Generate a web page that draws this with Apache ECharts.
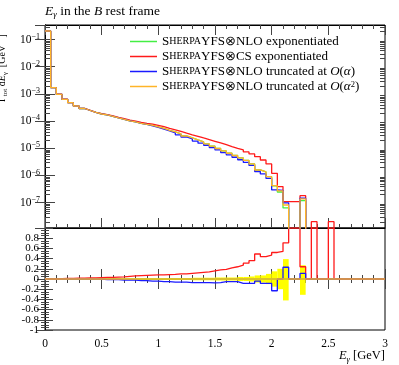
<!DOCTYPE html>
<html>
<head>
<meta charset="utf-8">
<script src="https://cdn.jsdelivr.net/npm/echarts@6/dist/echarts.min.js"></script>
<style>
html, body { margin: 0; padding: 0; background: #fff; }
#chart { width: 399px; height: 365px; }
</style>
</head>
<body>
<div id="chart"></div>
<script>
// bins of 0.05 GeV from 0 to 3 GeV
const binWidth = 0.05;
const edges = Array.from({ length: 61 }, (_, i) => +(i * binWidth).toFixed(2));

// 1/Gamma dGamma/dE per bin, 0 = empty bin
const nloExp = [0.205, 1.69e-3, 9.66e-4, 6.32e-4, 4.74e-4, 3.59e-4, 2.90e-4, 2.45e-4, 2.07e-4, 1.82e-4,
  1.68e-4, 1.48e-4, 1.30e-4, 1.15e-4, 1.01e-4, 9.27e-5, 8.3e-5, 7.5e-5, 6.9e-5, 6.17e-5,
  5.34e-5, 4.59e-5, 3.97e-5, 3.36e-5, 2.83e-5, 2.39e-5, 2.02e-5, 1.71e-5, 1.44e-5, 1.19e-5,
  9.8e-6, 7.96e-6, 6.55e-6, 5.43e-6, 4.40e-6, 3.56e-6, 2.65e-6, 1.59e-6, 1.35e-6, 9.0e-7,
  4.11e-7, 2.47e-7, 6.4e-8, 0, 0, 1.19e-7, 0, 0, 0, 0,
  0, 0, 0, 0, 0, 0, 0, 0, 0, 0];
const csExp = [0.205, 1.69e-3, 9.7e-4, 6.35e-4, 4.76e-4, 3.62e-4, 2.93e-4, 2.48e-4, 2.1e-4, 1.89e-4,
  1.72e-4, 1.54e-4, 1.37e-4, 1.22e-4, 1.08e-4, 9.9e-5, 9.03e-5, 8.3e-5, 7.69e-5, 7.01e-5,
  6.23e-5, 5.44e-5, 4.79e-5, 4.15e-5, 3.59e-5, 3.13e-5, 2.74e-5, 2.39e-5, 2.09e-5, 1.81e-5,
  1.57e-5, 1.35e-5, 1.16e-5, 1.0e-5, 8.66e-6, 7.31e-6, 6.17e-6, 4.91e-6, 3.71e-6, 2.65e-6,
  1.2e-6, 3.9e-7, 1.09e-7, 1.09e-7, 1.09e-7, 1.81e-7, 0, 2.0e-8, 0, 0,
  2.0e-8, 0, 0, 0, 0, 0, 0, 0, 0, 0];
const nloAlpha = [0.205, 1.69e-3, 9.66e-4, 6.32e-4, 4.74e-4, 3.59e-4, 2.90e-4, 2.45e-4, 2.07e-4, 1.82e-4,
  1.68e-4, 1.48e-4, 1.30e-4, 1.15e-4, 1.01e-4, 9.27e-5, 8.3e-5, 7.5e-5, 6.6e-5, 5.87e-5,
  5.04e-5, 4.32e-5, 3.71e-5, 3.11e-5, 2.6e-5, 2.2e-5, 1.84e-5, 1.54e-5, 1.29e-5, 1.05e-5,
  8.66e-6, 6.95e-6, 5.67e-6, 4.67e-6, 3.78e-6, 3.01e-6, 2.33e-6, 1.4e-6, 1.14e-6, 7.76e-7,
  2.93e-7, 2.81e-7, 9.75e-8, 0, 0, 1.45e-7, 0, 0, 0, 0,
  0, 0, 0, 0, 0, 0, 0, 0, 0, 0];
const nloAlpha2 = [0.205, 1.69e-3, 9.66e-4, 6.32e-4, 4.74e-4, 3.59e-4, 2.90e-4, 2.45e-4, 2.07e-4, 1.82e-4,
  1.68e-4, 1.48e-4, 1.30e-4, 1.15e-4, 1.01e-4, 9.27e-5, 8.3e-5, 7.5e-5, 6.9e-5, 6.17e-5,
  5.34e-5, 4.59e-5, 3.97e-5, 3.36e-5, 2.83e-5, 2.39e-5, 2.02e-5, 1.71e-5, 1.44e-5, 1.19e-5,
  9.8e-6, 7.96e-6, 6.55e-6, 5.43e-6, 4.40e-6, 3.56e-6, 2.65e-6, 1.59e-6, 1.35e-6, 9.0e-7,
  4.2e-7, 2.7e-7, 8.2e-8, 0, 0, 1.37e-7, 0, 0, 0, 0,
  0, 0, 0, 0, 0, 0, 0, 0, 0, 0];

// ratio panel
const ratioCs = [0, 0, 0.005, 0.01, 0.01, 0.015, 0.015, 0.02, 0.02, 0.025,
  0.03, 0.03, 0.035, 0.04, 0.05, 0.06, 0.065, 0.07, 0.075, 0.08,
  0.08, 0.085, 0.09, 0.1, 0.1, 0.11, 0.12, 0.13, 0.14, 0.16,
  0.18, 0.19, 0.22, 0.24, 0.27, 0.31, 0.36, 0.49, 0.44, 0.47,
  0.52, 0.54, 0.71, 1, 1, 0.24, 0, 1, 0, 0,
  1, 0, 0, 0, 0, 0, 0, 0, 0, 0];
const ratioAlpha = [0, 0, 0, 0, 0, 0, 0, 0, 0, 0,
  -0.01, -0.01, -0.01, -0.02, -0.02, -0.02, -0.03, -0.03, -0.04, -0.04,
  -0.05, -0.05, -0.06, -0.06, -0.06, -0.07, -0.07, -0.07, -0.07, -0.075,
  -0.07, -0.05, -0.05, -0.05, -0.085, -0.085, -0.085, -0.04, -0.085, -0.085,
  -0.23, 0.0, 0.23, 0, 0, 0.11, 0, 0, 0, 0,
  0, 0, 0, 0, 0, 0, 0, 0, 0, 0];
const ratioExp = new Array(60).fill(0);
const ratioAlpha2 = new Array(60).fill(0);
const bandUp = [0.005, 0.005, 0.005, 0.005, 0.005, 0.005, 0.008, 0.008, 0.008, 0.008,
  0.008, 0.008, 0.008, 0.008, 0.008, 0.008, 0.012, 0.012, 0.012, 0.012,
  0.012, 0.015, 0.015, 0.015, 0.015, 0.015, 0.025, 0.025, 0.025, 0.025,
  0.03, 0.03, 0.03, 0.03, 0.04, 0.04, 0.05, 0.07, 0.07, 0.1,
  0.15, 0.2, 0.39, 0, 0, 0.27, 0, 0, 0, 0,
  0, 0, 0, 0, 0, 0, 0, 0, 0, 0];
const bandDown = [0.005, 0.005, 0.005, 0.005, 0.005, 0.005, 0.008, 0.008, 0.008, 0.008,
  0.008, 0.008, 0.008, 0.008, 0.008, 0.008, 0.012, 0.012, 0.012, 0.012,
  0.012, 0.015, 0.015, 0.015, 0.015, 0.015, 0.025, 0.025, 0.025, 0.025,
  0.03, 0.03, 0.03, 0.03, 0.04, 0.04, 0.05, 0.07, 0.07, 0.1,
  0.15, 0.2, 0.42, 0, 0, 0.31, 0, 0, 0, 0,
  0, 0, 0, 0, 0, 0, 0, 0, 0, 0];

const names = ['nloExp', 'csExp', 'nloAlpha', 'nloAlpha2'];
const colors = ['#44ee44', '#ff1a1a', '#1a1aff', '#ffb428'];
const legendText = [
  '{sc|S}{scs|HERPA}YFS⊗NLO exponentiated',
  '{sc|S}{scs|HERPA}YFS⊗CS exponentiated',
  '{sc|S}{scs|HERPA}YFS⊗NLO truncated at {it|O}({it|α})',
  '{sc|S}{scs|HERPA}YFS⊗NLO truncated at {it|O}({it|α}{sup|2})'
];

const yMin = 1.17e-8, yMax = 0.341;
const logMinor = [];
for (let e = -8; e <= -1; e++) {
  for (let k = 2; k <= 9; k++) {
    const v = k * Math.pow(10, e);
    if (v > yMin && v < yMax) logMinor.push(v);
  }
}

const font = 'Liberation Serif';
const tickColor = '#444';

function steps(vals, floor) {
  const pts = vals.map((v, i) => [edges[i], floor != null && v <= 0 ? floor : v]);
  const last = vals[vals.length - 1];
  pts.push([edges[vals.length], floor != null && last <= 0 ? floor : last]);
  return pts;
}

const chart = echarts.init(document.getElementById('chart'));

const xCommon = {
  type: 'value', min: 0, max: 3, interval: 0.5,
  axisLine: { show: true, lineStyle: { color: '#000', width: 1 } },
  axisTick: { inside: true, length: 10, lineStyle: { color: tickColor } },
  minorTick: { show: true, splitNumber: 5, length: 4, lineStyle: { color: tickColor } },
  splitLine: { show: false },
  axisLabel: { show: false }
};
const yLogCommon = {
  type: 'log', min: yMin, max: yMax,
  axisLine: { show: true, lineStyle: { color: '#000', width: 1 } },
  axisTick: { inside: true, length: 10, lineStyle: { color: tickColor } },
  splitLine: { show: false }
};
const yRatioCommon = {
  type: 'value', min: -1, max: 1, interval: 0.2,
  axisLine: { show: true, lineStyle: { color: '#000', width: 1 } },
  axisTick: { inside: true, length: 8, lineStyle: { color: tickColor } },
  minorTick: { show: true, splitNumber: 4, length: 4, lineStyle: { color: tickColor } },
  splitLine: { show: false }
};
const ratioLabel = { margin: 6, fontFamily: font, fontSize: 11, color: '#000' };

const upperSeries = names.map((n, i) => ({
  name: n,
  type: 'line',
  step: 'end',
  xAxisIndex: 0, yAxisIndex: 0,
  data: steps([nloExp, csExp, nloAlpha, nloAlpha2][i], 1e-11),
  symbol: 'none',
  lineStyle: { color: colors[i], width: 1.3 },
  itemStyle: { color: colors[i] },
  z: 3 + i
}));

const ratioSeries = [ratioExp, ratioCs, ratioAlpha, ratioAlpha2].map((r, i) => ({
  name: 'ratio-' + names[i],
  type: 'line',
  step: 'end',
  xAxisIndex: 2, yAxisIndex: 2,
  data: steps(r),
  symbol: 'none',
  lineStyle: { color: colors[i], width: 1.3 },
  z: 3 + i
}));

chart.setOption({
  animation: false,
  title: [
    {
      text: '{i|E}{sub|γ} in the {i|B} rest frame',
      left: 45, top: 3, padding: 0,
      textStyle: {
        fontFamily: font, fontSize: 13.5, fontWeight: 'normal', color: '#000', lineHeight: 16,
        rich: {
          i: { fontFamily: font, fontSize: 13.5, fontStyle: 'italic', color: '#000', lineHeight: 16 },
          sub: { fontFamily: font, fontSize: 9, fontStyle: 'italic', color: '#000', lineHeight: 8, verticalAlign: 'bottom' }
        }
      }
    },
    {
      text: '{i|E}{sub|γ} [GeV]',
      right: 14, top: 348, padding: 0,
      textStyle: {
        fontFamily: font, fontSize: 12.5, fontWeight: 'normal', color: '#000', lineHeight: 16,
        rich: {
          i: { fontFamily: font, fontSize: 12.5, fontStyle: 'italic', color: '#000', lineHeight: 16 },
          sub: { fontFamily: font, fontSize: 8.5, fontStyle: 'italic', color: '#000', lineHeight: 8, verticalAlign: 'bottom' }
        }
      }
    }
  ],
  graphic: [{
    type: 'text', x: 2, y: 102, rotation: Math.PI / 2,
    style: {
      text: '{g|Γ}{sub|tot} d{i|E}{sub|γ}  [GeV{sup|−1}]',
      fontFamily: font, fontSize: 10, fill: '#000', align: 'left', verticalAlign: 'middle', lineHeight: 14,
      rich: {
        g: { fontFamily: font, fontSize: 10, fill: '#000', lineHeight: 14 },
        i: { fontFamily: font, fontSize: 10, fontStyle: 'italic', fill: '#000', lineHeight: 14 },
        sub: { fontFamily: font, fontSize: 7, fill: '#000', lineHeight: 6, verticalAlign: 'bottom' },
        sup: { fontFamily: font, fontSize: 7, fill: '#000', lineHeight: 6, verticalAlign: 'top' }
      }
    }
  }],
  legend: {
    data: names,
    orient: 'vertical',
    left: 130, top: 35,
    padding: 0,
    itemWidth: 27, itemHeight: 1.5, itemGap: 2,
    icon: 'rect',
    selectedMode: false,
    formatter: name => legendText[names.indexOf(name)],
    textStyle: {
      fontFamily: font, fontSize: 13, color: '#000', lineHeight: 13, padding: [0, 0, 0, 0],
      rich: {
        sc: { fontFamily: font, fontSize: 13, color: '#000', lineHeight: 13 },
        scs: { fontFamily: font, fontSize: 10, color: '#000', lineHeight: 13 },
        it: { fontFamily: font, fontSize: 13, fontStyle: 'italic', color: '#000', lineHeight: 13 },
        sup: { fontFamily: font, fontSize: 8.5, color: '#000', lineHeight: 5, verticalAlign: 'top' }
      }
    }
  },
  grid: [
    { left: 45, right: 14, top: 25, height: 203, show: true, borderColor: '#000', borderWidth: 1, containLabel: false },
    { left: 45, right: 14, top: 228, height: 102, show: true, borderColor: '#000', borderWidth: 1, containLabel: false }
  ],
  xAxis: [
    Object.assign({}, xCommon, { gridIndex: 0, position: 'bottom' }),
    Object.assign({}, xCommon, { gridIndex: 0, position: 'top' }),
    Object.assign({}, xCommon, { gridIndex: 1, position: 'bottom',
      axisLabel: { show: true, margin: 8, fontFamily: font, fontSize: 11.5, color: '#000',
        formatter: v => String(+v.toFixed(1)) } }),
    Object.assign({}, xCommon, { gridIndex: 1, position: 'top' })
  ],
  yAxis: [
    Object.assign({}, yLogCommon, { gridIndex: 0, position: 'left',
      axisLabel: {
        margin: 5, showMinLabel: false, showMaxLabel: false,
        fontFamily: font, fontSize: 11.5, color: '#000', lineHeight: 14,
        formatter: v => '10{sup|−' + Math.round(-Math.log10(v)) + '}',
        rich: { sup: { fontFamily: font, fontSize: 8, color: '#000', lineHeight: 6, verticalAlign: 'top' } }
      } }),
    Object.assign({}, yLogCommon, { gridIndex: 0, position: 'right', axisLabel: { show: false } }),
    Object.assign({}, yRatioCommon, { gridIndex: 1, position: 'left',
      axisLabel: Object.assign({}, ratioLabel, {
        showMinLabel: false,
        formatter: v => (Math.abs(v - 1) < 1e-9 ? '' : String(+v.toFixed(1)))
      }) }),
    Object.assign({}, yRatioCommon, { gridIndex: 1, position: 'right', axisLabel: { show: false } }),
    // carries only the bottom "-1" label of the ratio panel
    {
      gridIndex: 1, type: 'value', min: -1, max: 1, interval: 2, position: 'left',
      axisLine: { show: false }, axisTick: { show: false }, splitLine: { show: false },
      axisLabel: Object.assign({}, ratioLabel, { formatter: v => (v < 0 ? String(v) : '') })
    }
  ],
  series: [
    {
      name: 'minor-log-ticks',
      type: 'custom',
      xAxisIndex: 0, yAxisIndex: 0,
      silent: true,
      data: logMinor.map(v => [0, v]),
      encode: { x: 0, y: 1 },
      renderItem: (params, api) => {
        const cs = params.coordSys;
        const y = Math.round(api.coord([0, api.value(1)])[1]) + 0.5;
        const st = { stroke: tickColor, lineWidth: 1 };
        return {
          type: 'group',
          children: [
            { type: 'line', shape: { x1: cs.x, y1: y, x2: cs.x + 5, y2: y }, style: st },
            { type: 'line', shape: { x1: cs.x + cs.width - 5, y1: y, x2: cs.x + cs.width, y2: y }, style: st }
          ]
        };
      },
      z: 2
    },
    ...upperSeries,
    {
      name: 'band',
      type: 'custom',
      xAxisIndex: 2, yAxisIndex: 2,
      silent: true,
      data: bandUp.map((u, i) => [edges[i], edges[i + 1], -bandDown[i], u]),
      encode: { x: [0, 1], y: [2, 3] },
      renderItem: (params, api) => {
        const p0 = api.coord([api.value(0), api.value(3)]);
        const p1 = api.coord([api.value(1), api.value(2)]);
        return {
          type: 'rect',
          shape: { x: p0[0], y: p0[1], width: p1[0] - p0[0], height: p1[1] - p0[1] },
          style: { fill: '#ffff00' }
        };
      },
      z: 2
    },
    ...ratioSeries
  ]
});
</script>
</body>
</html>
